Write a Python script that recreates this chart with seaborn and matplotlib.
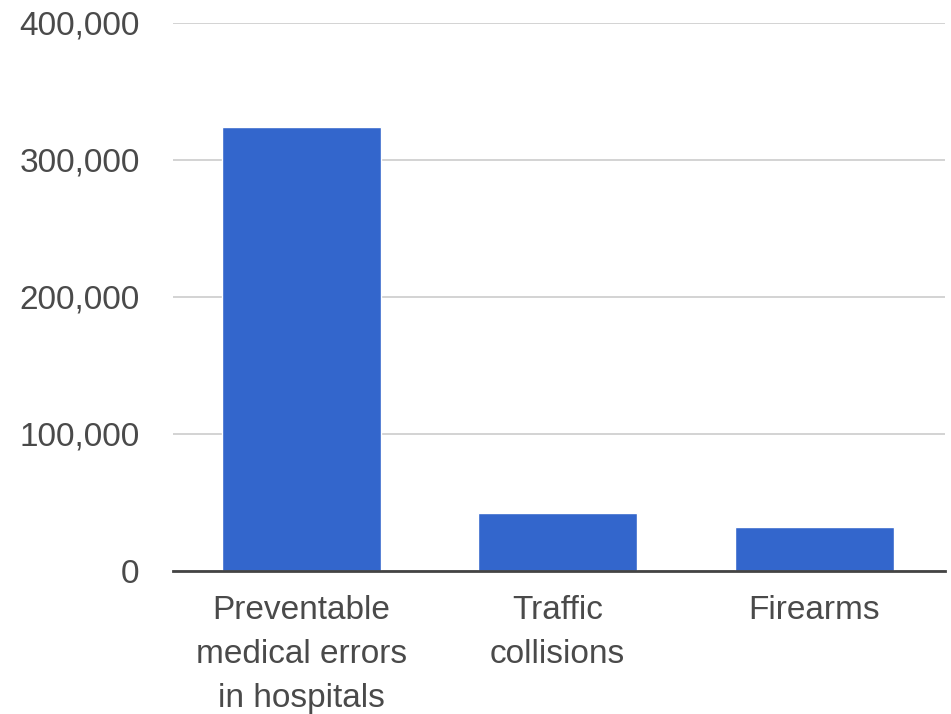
import matplotlib
matplotlib.use("Agg")
import matplotlib.pyplot as plt
import seaborn as sns
import pandas as pd
from matplotlib.ticker import FuncFormatter

# Annual deaths by cause
causes = ["Preventable\nmedical errors\nin hospitals", "Traffic\ncollisions", "Firearms"]
deaths = [324000, 42000, 31900]
y_ticks = [0, 100000, 200000, 300000, 400000]

df = pd.DataFrame({"cause": causes, "deaths": deaths})

sns.set_theme(style="white")
plt.rcParams["font.family"] = ["Liberation Sans", "DejaVu Sans"]

fig = plt.figure(figsize=(9.51, 7.14), dpi=100)
ax = fig.add_axes([0.1819, 0.2003, 0.9937 - 0.1819, 0.9678 - 0.2003])

sns.barplot(data=df, x="cause", y="deaths", color="#3366cc", width=0.62,
            saturation=1, ax=ax, zorder=3)

ax.set_ylim(0, 400000)
ax.set_xlim(-0.5, 2.51)
ax.set_yticks(y_ticks)
ax.yaxis.set_major_formatter(FuncFormatter(lambda v, p: f"{int(v):,}"))
ax.grid(axis="y", color="#cccccc", linewidth=1.2, zorder=0)
ax.set_axisbelow(True)

for side in ["top", "right", "left"]:
    ax.spines[side].set_visible(False)
ax.spines["bottom"].set_color("#444444")
ax.spines["bottom"].set_linewidth(2)
ax.spines["bottom"].set_zorder(4)

ax.set_xlabel("")
ax.set_ylabel("")
ax.tick_params(axis="y", length=0, pad=24, labelsize=24, labelcolor="#4a4a4a")
ax.tick_params(axis="x", length=0, pad=17.5, labelsize=24, labelcolor="#4a4a4a")
for lbl in ax.get_xticklabels():
    lbl.set_linespacing(1.53)
    lbl.set_multialignment("center")

fig.savefig("out.png", dpi=100)
